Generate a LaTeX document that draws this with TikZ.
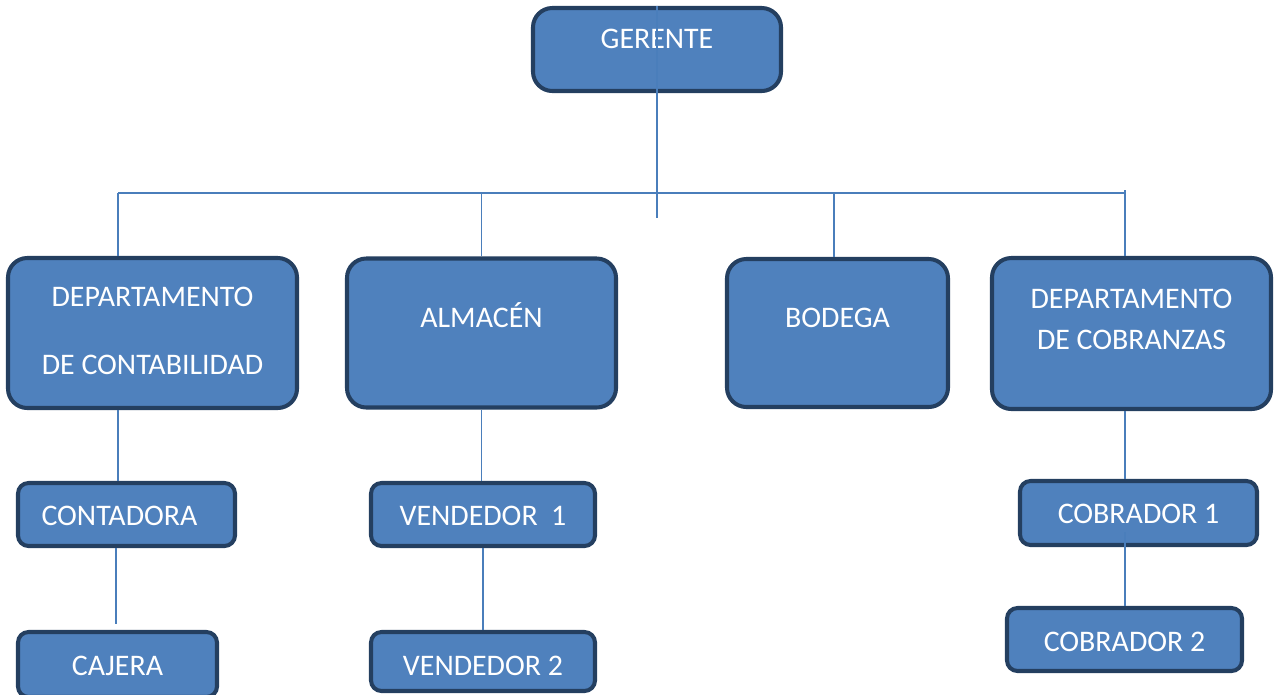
\documentclass[tikz,border=0pt]{standalone}
\usepackage{fontspec}
\setmainfont{Carlito}
\definecolor{boxfill}{HTML}{4F81BD}
\definecolor{boxedge}{HTML}{243F60}
\definecolor{linkblue}{HTML}{4A7EBB}
\begin{document}
\begin{tikzpicture}[x=0.02cm,y=-0.02cm,unit/.style={shape=rectangle,draw=boxedge,fill=boxfill,line width=2.3pt,rounded corners=11pt,text=white,font=\fontsize{17}{20.4}\selectfont,inner sep=0pt,text height=10.75pt,text depth=#1},unit/.default=0pt,unitS/.style={unit,rounded corners=6pt,text height=#1},unitS/.default=13pt,link/.style={draw=linkblue,line width=1pt}]
\def\px{0.02cm};
\useasboundingbox (0,0) rectangle (1281,694);

\node[unit=11.4pt,minimum width=248*\px,minimum height=83*\px] (ger) at (657,49.5) {GERENTE};

\node[unit=40.8pt,minimum width=289*\px,minimum height=150*\px] (contab) at (152.5,333) {\begin{tabular}[t]{@{}c@{}}DEPARTAMENTO\\[18.4pt]DE CONTABILIDAD\end{tabular}};
\node[unit=16.7pt,minimum width=269*\px,minimum height=149*\px] (alm) at (481.5,333) {ALMAC\'EN};
\node[unit=16.7pt,minimum width=221*\px,minimum height=148*\px] (bod) at (837.5,333) {BODEGA};
\node[unit=39.7pt,minimum width=279*\px,minimum height=151*\px] (cobz) at (1131.5,333.5) {\begin{tabular}[t]{@{}c@{}}DEPARTAMENTO\\[3.4pt]DE COBRANZAS\end{tabular}};

\node[unitS,minimum width=217*\px,minimum height=63*\px] (conta) at (126.5,514.5) {CONTADORA\kern8pt};
\node[unitS,minimum width=199*\px,minimum height=65*\px] (caj) at (117.5,664.5) {CAJERA};
\node[unitS,minimum width=224*\px,minimum height=63*\px] (v1) at (483,514.5) {VENDEDOR\ \ 1};
\node[unitS=15.5pt,minimum width=224*\px,minimum height=59*\px] (v2) at (483,661.5) {VENDEDOR 2};
\node[unitS=12.4pt,minimum width=237*\px,minimum height=64*\px] (c1) at (1138.5,513) {COBRADOR 1};
\node[unitS=14.2pt,minimum width=235*\px,minimum height=63*\px] (c2) at (1124.5,639.5) {COBRADOR 2};

\coordinate (busL) at (118,193);
\coordinate (busR) at (1125,193);
\coordinate (gtail) at (657,218);
\coordinate (bodtop) at (834,193);
\coordinate (cajtop) at (116,624);
\coordinate (c1in) at (1125,532);

\draw[link] (ger.north) -- (gtail);
\draw[link] (busL) -- (busR);
\draw[link] (busL) -- (busL |- contab.north);
\draw[link] (alm.north |- busL) -- (alm.north);
\draw[link] (bodtop) -- (bodtop |- bod.north);
\draw[link] ([yshift=1.7pt]busR) -- (busR |- cobz.north);

\draw[link] (busL |- contab.south) -- (busL |- conta.north);
\draw[link] (cajtop |- conta.south) -- (cajtop);
\draw[link] (alm.south) -- (alm.south |- v1.north);
\draw[link] (v1.south) -- (v1.south |- v2.north);
\draw[link] (busR |- cobz.south) -- (busR |- c1.north);
\draw[link] (c1in) -- (c1in |- c2.north);
\end{tikzpicture}
\end{document}
